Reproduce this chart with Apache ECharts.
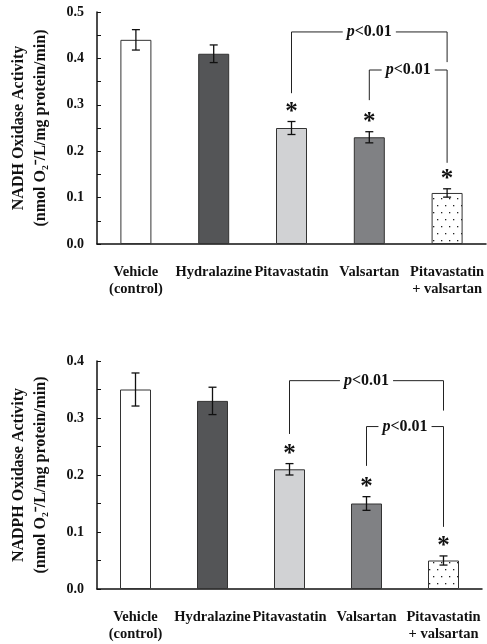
<!DOCTYPE html>
<html><head><meta charset="utf-8">
<script src="https://cdn.jsdelivr.net/npm/echarts@6/dist/echarts.min.js"></script>
<style>html,body{margin:0;padding:0;background:#fff}#c{width:487px;height:644px}</style>
</head><body><div id="c"></div>
<script>
const categories = ['Vehicle\n(control)', 'Hydralazine', 'Pitavastatin', 'Valsartan', 'Pitavastatin\n+ valsartan'];
const nadhMean = [0.44, 0.41, 0.25, 0.23, 0.11];
const nadhErr = [0.022, 0.019, 0.014, 0.012, 0.009];
const nadphMean = [0.35, 0.33, 0.21, 0.15, 0.05];
const nadphErr = [0.029, 0.024, 0.010, 0.012, 0.008];
const significant = [false, false, true, true, true];
const nadhTicks = [0, 0.5, 0.1];
const nadphTicks = [0, 0.4, 0.1];
// brackets: [fromIndex, toIndex, lineValue, fromLegEnd, toLegEnd]
const nadhBrackets = [[2, 4, 0.457, 0.325, 0.392], [3, 4, 0.375, 0.310, 0.175]];
const nadphBrackets = [[2, 4, 0.3655, 0.272, 0.313], [3, 4, 0.285, 0.216, 0.109]];
const bracketLabel = 'p<0.01';

const FONT = '"Liberation Serif","Times New Roman",serif';
function dotPattern() {
  const c = document.createElement('canvas');
  c.width = 8; c.height = 14;
  const g = c.getContext('2d');
  g.fillStyle = '#fff'; g.fillRect(0, 0, 8, 14);
  g.fillStyle = '#222';
  g.fillRect(1, 2, 1.3, 1.3);
  g.fillRect(5, 9, 1.3, 1.3);
  return { image: c, repeat: 'repeat' };
}
const barColors = ['#ffffff', '#545557', '#d1d2d4', '#808184', dotPattern()];

const chart = echarts.init(document.getElementById('c'), null, { renderer: 'canvas' });

function xAxis(gi) {
  return {
    type: 'category', gridIndex: gi, data: categories,
    axisLine: { lineStyle: { color: '#111', width: 1.5 } },
    axisTick: { show: false },
    axisLabel: { fontFamily: FONT, fontWeight: 'bold', fontSize: 14.5, color: '#111', margin: 20, lineHeight: 17, interval: 0 }
  };
}
function yAxis(gi, ticks, title) {
  return {
    type: 'value', gridIndex: gi, min: ticks[0], max: ticks[1], interval: ticks[2],
    name: title, nameLocation: 'middle', nameGap: 45,
    nameTextStyle: { fontFamily: FONT, fontWeight: 'bold', fontSize: 16, color: '#111', lineHeight: 22 },
    axisLine: { show: true, lineStyle: { color: '#111', width: 1.5 } },
    axisTick: { show: true, inside: true, length: 4, lineStyle: { color: '#111' } },
    minorTick: { show: true, splitNumber: 2, length: 4, lineStyle: { color: '#111' } },
    splitLine: { show: false },
    axisLabel: { fontFamily: FONT, fontWeight: 'bold', fontSize: 14, color: '#111', margin: 13, formatter: v => v.toFixed(1) }
  };
}
function barSeries(gi, mean) {
  return {
    type: 'bar', xAxisIndex: gi, yAxisIndex: gi, barWidth: 31,
    data: mean.map((v, i) => ({ value: v, itemStyle: { color: barColors[i] } })),
    itemStyle: { borderColor: '#333', borderWidth: 1 }, silent: true
  };
}
function errSeries(gi, mean, err) {
  return {
    type: 'custom', xAxisIndex: gi, yAxisIndex: gi, clip: false, silent: true, z: 5,
    data: mean.map((m, i) => [i, m, err[i], significant[i] ? 1 : 0]),
    encode: { x: 0, y: 1 },
    renderItem: (params, api) => {
      const i = api.value(0), m = api.value(1), e = api.value(2);
      const top = api.coord([i, m + e]), bot = api.coord([i, m - e]);
      const x = top[0], w = 4;
      const ls = { stroke: '#111', lineWidth: 1.3 };
      const children = [
        { type: 'line', shape: { x1: x, y1: top[1], x2: x, y2: bot[1] }, style: ls },
        { type: 'line', shape: { x1: x - w, y1: top[1], x2: x + w, y2: top[1] }, style: ls },
        { type: 'line', shape: { x1: x - w, y1: bot[1], x2: x + w, y2: bot[1] }, style: ls }
      ];
      if (api.value(3)) children.push({ type: 'text', style: { text: '*', x: x, y: top[1] - 9, align: 'center', verticalAlign: 'middle', font: 'bold 25px ' + FONT, fill: '#111' } });
      return { type: 'group', children };
    }
  };
}
function bracketSeries(gi, brackets) {
  return {
    type: 'custom', xAxisIndex: gi, yAxisIndex: gi, clip: false, silent: true, z: 6,
    data: brackets, encode: { x: 0, y: 2 },
    renderItem: (params, api) => {
      const a = api.value(0), b = api.value(1), yv = api.value(2);
      const p1 = api.coord([a, api.value(3)]), p2 = api.coord([a, yv]);
      const p3 = api.coord([b, yv]), p4 = api.coord([b, api.value(4)]);
      const mx = (p2[0] + p3[0]) / 2;
      return { type: 'group', children: [
        { type: 'polyline', shape: { points: [p1, p2, p3, p4] }, style: { stroke: '#222', lineWidth: 1, fill: null } },
        { type: 'text', z2: 10, style: { text: '{i|p}{b|' + bracketLabel.slice(1) + '}', x: mx, y: p2[1], align: 'center', verticalAlign: 'middle',
          backgroundColor: '#fff', padding: [0, 4],
          rich: { i: { font: 'italic bold 16px ' + FONT, fill: '#111' }, b: { font: 'bold 16px ' + FONT, fill: '#111' } } } }
      ] };
    }
  };
}

chart.setOption({
  animation: false,
  grid: [
    { left: 91, top: 12, width: 395, height: 232 },
    { left: 92, top: 361, width: 390, height: 228 }
  ],
  xAxis: [xAxis(0), xAxis(1)],
  yAxis: [
    yAxis(0, nadhTicks, 'NADH Oxidase Activity\n(nmol O\u2082\u207B/L/mg protein/min)'),
    yAxis(1, nadphTicks, 'NADPH Oxidase Activity\n(nmol O\u2082\u207B/L/mg protein/min)')
  ],
  series: [
    barSeries(0, nadhMean), errSeries(0, nadhMean, nadhErr), bracketSeries(0, nadhBrackets),
    barSeries(1, nadphMean), errSeries(1, nadphMean, nadphErr), bracketSeries(1, nadphBrackets)
  ]
});
</script></body></html>
